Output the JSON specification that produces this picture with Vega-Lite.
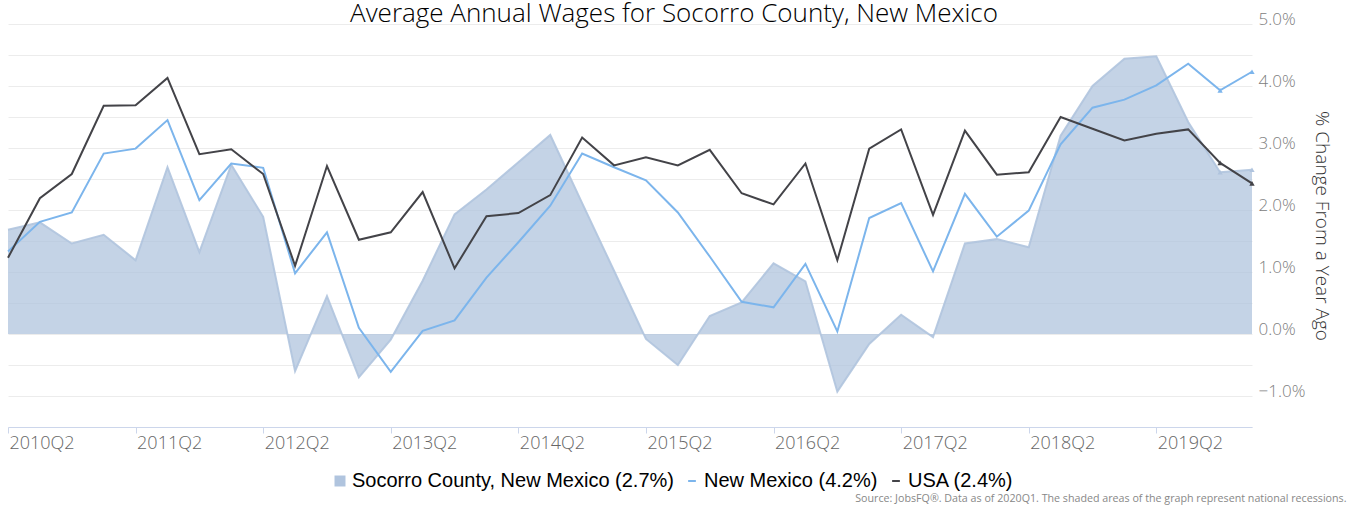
{
  "$schema": "https://vega.github.io/schema/vega-lite/v6.json",
  "autosize": "none",
  "padding": {"left": 8, "top": 24, "right": 98, "bottom": 83},
  "width": 1244,
  "height": 403,
  "background": "white",
  "config": {"view": {"stroke": null}},
  "title": {
    "text": "Average Annual Wages for Socorro County, New Mexico",
    "font": "Open Sans",
    "fontSize": 26,
    "fontWeight": 300,
    "color": "#000",
    "anchor": "middle",
    "frame": "group",
    "baseline": "top",
    "offset": -17,
    "dx": 44
  },
  "data": {
    "values": [
      {"q": "2010Q2", "s": "soc", "v": 1.68}, {"q": "2010Q2", "s": "nm", "v": 1.33}, {"q": "2010Q2", "s": "us", "v": 1.23},
      {"q": "2010Q3", "s": "soc", "v": 1.80}, {"q": "2010Q3", "s": "nm", "v": 1.81}, {"q": "2010Q3", "s": "us", "v": 2.19},
      {"q": "2010Q4", "s": "soc", "v": 1.46}, {"q": "2010Q4", "s": "nm", "v": 1.96}, {"q": "2010Q4", "s": "us", "v": 2.58},
      {"q": "2011Q1", "s": "soc", "v": 1.60}, {"q": "2011Q1", "s": "nm", "v": 2.91}, {"q": "2011Q1", "s": "us", "v": 3.68},
      {"q": "2011Q2", "s": "soc", "v": 1.19}, {"q": "2011Q2", "s": "nm", "v": 2.99}, {"q": "2011Q2", "s": "us", "v": 3.69},
      {"q": "2011Q3", "s": "soc", "v": 2.69}, {"q": "2011Q3", "s": "nm", "v": 3.45}, {"q": "2011Q3", "s": "us", "v": 4.13},
      {"q": "2011Q4", "s": "soc", "v": 1.32}, {"q": "2011Q4", "s": "nm", "v": 2.16}, {"q": "2011Q4", "s": "us", "v": 2.90},
      {"q": "2012Q1", "s": "soc", "v": 2.73}, {"q": "2012Q1", "s": "nm", "v": 2.75}, {"q": "2012Q1", "s": "us", "v": 2.98},
      {"q": "2012Q2", "s": "soc", "v": 1.89}, {"q": "2012Q2", "s": "nm", "v": 2.68}, {"q": "2012Q2", "s": "us", "v": 2.58},
      {"q": "2012Q3", "s": "soc", "v": -0.60}, {"q": "2012Q3", "s": "nm", "v": 0.98}, {"q": "2012Q3", "s": "us", "v": 1.10},
      {"q": "2012Q4", "s": "soc", "v": 0.61}, {"q": "2012Q4", "s": "nm", "v": 1.64}, {"q": "2012Q4", "s": "us", "v": 2.71},
      {"q": "2013Q1", "s": "soc", "v": -0.70}, {"q": "2013Q1", "s": "nm", "v": 0.10}, {"q": "2013Q1", "s": "us", "v": 1.52},
      {"q": "2013Q2", "s": "soc", "v": -0.09}, {"q": "2013Q2", "s": "nm", "v": -0.61}, {"q": "2013Q2", "s": "us", "v": 1.64},
      {"q": "2013Q3", "s": "soc", "v": 0.86}, {"q": "2013Q3", "s": "nm", "v": 0.05}, {"q": "2013Q3", "s": "us", "v": 2.29},
      {"q": "2013Q4", "s": "soc", "v": 1.93}, {"q": "2013Q4", "s": "nm", "v": 0.22}, {"q": "2013Q4", "s": "us", "v": 1.06},
      {"q": "2014Q1", "s": "soc", "v": 2.33}, {"q": "2014Q1", "s": "nm", "v": 0.91}, {"q": "2014Q1", "s": "us", "v": 1.90},
      {"q": "2014Q2", "s": "soc", "v": 2.77}, {"q": "2014Q2", "s": "nm", "v": 1.48}, {"q": "2014Q2", "s": "us", "v": 1.95},
      {"q": "2014Q3", "s": "soc", "v": 3.21}, {"q": "2014Q3", "s": "nm", "v": 2.07}, {"q": "2014Q3", "s": "us", "v": 2.24},
      {"q": "2014Q4", "s": "soc", "v": 2.11}, {"q": "2014Q4", "s": "nm", "v": 2.91}, {"q": "2014Q4", "s": "us", "v": 3.17},
      {"q": "2015Q1", "s": "soc", "v": 1.02}, {"q": "2015Q1", "s": "nm", "v": 2.69}, {"q": "2015Q1", "s": "us", "v": 2.72},
      {"q": "2015Q2", "s": "soc", "v": -0.08}, {"q": "2015Q2", "s": "nm", "v": 2.48}, {"q": "2015Q2", "s": "us", "v": 2.85},
      {"q": "2015Q3", "s": "soc", "v": -0.50}, {"q": "2015Q3", "s": "nm", "v": 1.96}, {"q": "2015Q3", "s": "us", "v": 2.72},
      {"q": "2015Q4", "s": "soc", "v": 0.29}, {"q": "2015Q4", "s": "nm", "v": 1.25}, {"q": "2015Q4", "s": "us", "v": 2.97},
      {"q": "2016Q1", "s": "soc", "v": 0.51}, {"q": "2016Q1", "s": "nm", "v": 0.52}, {"q": "2016Q1", "s": "us", "v": 2.27},
      {"q": "2016Q2", "s": "soc", "v": 1.14}, {"q": "2016Q2", "s": "nm", "v": 0.43}, {"q": "2016Q2", "s": "us", "v": 2.09},
      {"q": "2016Q3", "s": "soc", "v": 0.85}, {"q": "2016Q3", "s": "nm", "v": 1.13}, {"q": "2016Q3", "s": "us", "v": 2.75},
      {"q": "2016Q4", "s": "soc", "v": -0.93}, {"q": "2016Q4", "s": "nm", "v": 0.04}, {"q": "2016Q4", "s": "us", "v": 1.19},
      {"q": "2017Q1", "s": "soc", "v": -0.16}, {"q": "2017Q1", "s": "nm", "v": 1.87}, {"q": "2017Q1", "s": "us", "v": 2.99},
      {"q": "2017Q2", "s": "soc", "v": 0.31}, {"q": "2017Q2", "s": "nm", "v": 2.11}, {"q": "2017Q2", "s": "us", "v": 3.30},
      {"q": "2017Q3", "s": "soc", "v": -0.05}, {"q": "2017Q3", "s": "nm", "v": 1.01}, {"q": "2017Q3", "s": "us", "v": 1.92},
      {"q": "2017Q4", "s": "soc", "v": 1.46}, {"q": "2017Q4", "s": "nm", "v": 2.26}, {"q": "2017Q4", "s": "us", "v": 3.28},
      {"q": "2018Q1", "s": "soc", "v": 1.53}, {"q": "2018Q1", "s": "nm", "v": 1.57}, {"q": "2018Q1", "s": "us", "v": 2.57},
      {"q": "2018Q2", "s": "soc", "v": 1.40}, {"q": "2018Q2", "s": "nm", "v": 1.99}, {"q": "2018Q2", "s": "us", "v": 2.61},
      {"q": "2018Q3", "s": "soc", "v": 3.20}, {"q": "2018Q3", "s": "nm", "v": 3.06}, {"q": "2018Q3", "s": "us", "v": 3.50},
      {"q": "2018Q4", "s": "soc", "v": 4.00}, {"q": "2018Q4", "s": "nm", "v": 3.65}, {"q": "2018Q4", "s": "us", "v": 3.31},
      {"q": "2019Q1", "s": "soc", "v": 4.44}, {"q": "2019Q1", "s": "nm", "v": 3.78}, {"q": "2019Q1", "s": "us", "v": 3.12},
      {"q": "2019Q2", "s": "soc", "v": 4.48}, {"q": "2019Q2", "s": "nm", "v": 4.01}, {"q": "2019Q2", "s": "us", "v": 3.23},
      {"q": "2019Q3", "s": "soc", "v": 3.42}, {"q": "2019Q3", "s": "nm", "v": 4.36}, {"q": "2019Q3", "s": "us", "v": 3.30},
      {"q": "2019Q4", "s": "soc", "v": 2.61}, {"q": "2019Q4", "s": "nm", "v": 3.93}, {"q": "2019Q4", "s": "us", "v": 2.76},
      {"q": "2020Q1", "s": "soc", "v": 2.65}, {"q": "2020Q1", "s": "nm", "v": 4.23}, {"q": "2020Q1", "s": "us", "v": 2.43}
    ]
  },
  "encoding": {
    "x": {
      "field": "q",
      "type": "ordinal",
      "scale": {"type": "point", "padding": 0},
      "sort": null,
      "axis": {
        "values": ["2010Q2", "2011Q2", "2012Q2", "2013Q2", "2014Q2", "2015Q2", "2016Q2", "2017Q2", "2018Q2", "2019Q2"],
        "labelAngle": 0,
        "labelAlign": "left",
        "labelBaseline": "top",
        "labelPadding": 1,
        "labelOffset": 1,
        "labelFont": "Open Sans",
        "labelFontWeight": 300,
        "labelFontSize": 18,
        "labelColor": "#666",
        "domainColor": "#ccd6eb",
        "domainWidth": 1,
        "tickColor": "#ccd6eb",
        "tickSize": 6,
        "grid": false,
        "title": "Source: JobsFQ®. Data as of 2020Q1. The shaded areas of the graph represent national recessions.",
        "titleFont": "Open Sans",
        "titleFontSize": 10.7,
        "titleFontWeight": "normal",
        "titleColor": "#888",
        "titleAnchor": "start",
        "titleAlign": "right",
        "titleBaseline": "alphabetic",
        "titleX": 1338,
        "titleY": 74
      }
    },
    "y": {
      "field": "v",
      "type": "quantitative",
      "scale": {"domain": [-1.5, 5], "nice": false, "zero": false},
      "axis": {
        "orient": "right",
        "values": [-1.5, -1, -0.5, 0, 0.5, 1, 1.5, 2, 2.5, 3, 3.5, 4, 4.5, 5],
        "labelExpr": "datum.value % 1 == 0 ? format(datum.value, '.1f') + '%' : ''",
        "labelBaseline": "alphabetic",
        "labelFlush": false,
        "labelAlign": "left",
        "labelPadding": 6,
        "labelFont": "Open Sans",
        "labelFontWeight": 300,
        "labelFontSize": 17,
        "labelColor": "#808080",
        "domain": false,
        "ticks": false,
        "grid": true,
        "gridColor": "#ececec",
        "gridWidth": 1,
        "title": "% Change From a Year Ago",
        "titleFont": "Open Sans",
        "titleFontWeight": 300,
        "titleFontSize": 19,
        "titleColor": "#333",
        "titleAngle": 90,
        "titlePadding": 7
      }
    },
    "color": {
      "field": "s",
      "type": "nominal",
      "scale": {"domain": ["soc", "nm", "us"], "range": ["#b0c4de", "#7cb5ec", "#434348"]},
      "legend": {
        "orient": "none",
        "direction": "horizontal",
        "legendX": 322,
        "legendY": 447,
        "title": null,
        "padding": 0,
        "labelExpr": "datum.value == 'soc' ? 'Socorro County, New Mexico (2.7%)' : datum.value == 'nm' ? 'New Mexico (4.2%)' : 'USA (2.4%)'",
        "labelFont": "Liberation Sans",
        "labelFontSize": 20,
        "labelColor": "#000",
        "labelLimit": 0,
        "labelOffset": 2,
        "columnPadding": 8,
        "symbolSize": 121,
        "encode": {
          "symbols": {
            "update": {
              "shape": {"signal": "datum.value == 'soc' ? 'square' : 'stroke'"},
              "fill": {"signal": "datum.value == 'soc' ? '#b0c4de' : 'transparent'"},
              "stroke": {"signal": "datum.value == 'soc' ? 'transparent' : scale('color', datum.value)"},
              "strokeWidth": {"signal": "datum.value == 'soc' ? 0 : 2"},
              "size": {"signal": "datum.value == 'soc' ? 121 : 60"},
              "opacity": {"value": 1}
            }
          }
        }
      }
    }
  },
  "layer": [
    {
      "transform": [{"filter": "datum.s == 'soc'"}],
      "mark": {"type": "area", "opacity": 0.75, "line": {"strokeWidth": 2, "opacity": 0.9}}
    },
    {
      "transform": [{"filter": "datum.s != 'soc'"}],
      "mark": {"type": "line", "strokeWidth": 2}
    },
    {
      "transform": [{"filter": "datum.q == '2019Q4' || datum.q == '2020Q1'"}],
      "mark": {"type": "point", "shape": "triangle-up", "size": 28, "filled": true, "opacity": 1}
    }
  ]
}
